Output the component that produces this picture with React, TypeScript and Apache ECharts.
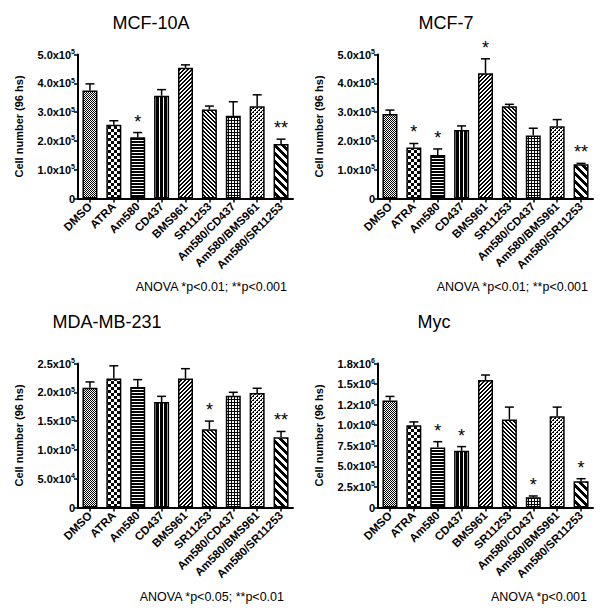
import React, { useEffect, useRef } from "react";
import * as echarts from "echarts";

const categories = [
  "DMSO",
  "ATRA",
  "Am580",
  "CD437",
  "BMS961",
  "SR11253",
  "Am580/CD437",
  "Am580/BMS961",
  "Am580/SR11253",
];

const panelTitles = ["MCF-10A", "MCF-7", "MDA-MB-231", "Myc"];
const anovaNotes = [
  "ANOVA *p<0.01; **p<0.001",
  "ANOVA *p<0.01; **p<0.001",
  "ANOVA *p<0.05; **p<0.01",
  "ANOVA *p<0.001",
];

const mcf10aMean = [3.75e5, 2.56e5, 2.13e5, 3.57e5, 4.54e5, 3.09e5, 2.87e5, 3.2e5, 1.89e5];
const mcf10aSem = [0.23e5, 0.14e5, 0.16e5, 0.21e5, 0.1e5, 0.12e5, 0.49e5, 0.4e5, 0.17e5];
const mcf10aSig = ["", "", "*", "", "", "", "", "", "**"];

const mcf7Mean = [2.93e5, 1.77e5, 1.51e5, 2.38e5, 4.35e5, 3.2e5, 2.19e5, 2.51e5, 1.19e5];
const mcf7Sem = [0.14e5, 0.14e5, 0.21e5, 0.14e5, 0.5e5, 0.07e5, 0.25e5, 0.23e5, 0.03e5];
const mcf7Sig = ["", "*", "*", "", "*", "", "", "", "**"];

const mdaMean = [2.08e5, 2.24e5, 2.09e5, 1.83e5, 2.24e5, 1.36e5, 1.94e5, 1.99e5, 1.22e5];
const mdaSem = [0.1e5, 0.22e5, 0.13e5, 0.1e5, 0.17e5, 0.14e5, 0.06e5, 0.08e5, 0.1e5];
const mdaSig = ["", "", "", "", "", "*", "", "", "**"];

const mycMean = [1.3e6, 1.0e6, 0.73e6, 0.69e6, 1.55e6, 1.07e6, 0.126e6, 1.11e6, 0.32e6];
const mycSem = [0.05e6, 0.04e6, 0.07e6, 0.05e6, 0.06e6, 0.15e6, 0.014e6, 0.11e6, 0.03e6];
const mycSig = ["", "", "*", "*", "", "", "*", "", "*"];

const tickLabelsMcf = ["0", "1.0x10^5", "2.0x10^5", "3.0x10^5", "4.0x10^5", "5.0x10^5"];
const tickLabelsMda = ["0", "5.0x10^4", "1.0x10^5", "1.5x10^5", "2.0x10^5", "2.5x10^5"];
const tickLabelsMyc = ["0", "2.5x10^5", "5.0x10^5", "7.5x10^5", "1.0x10^6", "1.2x10^6", "1.5x10^6", "1.8x10^6"];

const axisMax = [5e5, 5e5, 2.5e5, 1.75e6];
const axisInterval = [1e5, 1e5, 5e4, 2.5e5];

const FONT = '"Liberation Sans", Arial, sans-serif';

function makePattern(w: number, h: number, isBlack: (x: number, y: number) => boolean) {
  const c = document.createElement("canvas");
  c.width = w;
  c.height = h;
  const ctx = c.getContext("2d")!;
  const img = ctx.createImageData(w, h);
  for (let y = 0; y < h; y++) {
    for (let x = 0; x < w; x++) {
      const k = (y * w + x) * 4;
      const v = isBlack(x, y) ? 0 : 255;
      img.data[k] = v;
      img.data[k + 1] = v;
      img.data[k + 2] = v;
      img.data[k + 3] = 255;
    }
  }
  ctx.putImageData(img, 0, 0);
  return { image: c, repeat: "repeat" } as any;
}

function buildPatterns() {
  const mod = (a: number, n: number) => ((a % n) + n) % n;
  return [
    makePattern(2, 2, (x, y) => (x + y) % 2 === 0),
    makePattern(6, 6, (x, y) => (Math.floor(x / 3) + Math.floor(y / 3)) % 2 === 0),
    makePattern(4, 3, (x, y) => y < 2),
    makePattern(4, 4, (x) => x < 3),
    makePattern(4, 4, (x, y) => mod(x + y, 4) < 2),
    makePattern(4, 4, (x, y) => mod(x - y, 4) < 2),
    makePattern(3, 3, (x, y) => x === 0 || y === 0),
    makePattern(4, 4, (x, y) => mod(x + y, 4) === 0 || (mod(x + y, 4) === 1 && y % 2 === 0)),
    makePattern(8, 8, (x, y) => mod(x - y, 8) < 4),
  ];
}

export default function App() {
  const ref = useRef<HTMLDivElement>(null);

  useEffect(() => {
    if (!ref.current) return;
    const chart = echarts.init(ref.current, undefined, { renderer: "svg" });
    const patterns = buildPatterns();

    const means = [mcf10aMean, mcf7Mean, mdaMean, mycMean];
    const sems = [mcf10aSem, mcf7Sem, mdaSem, mycSem];
    const sigs = [mcf10aSig, mcf7Sig, mdaSig, mycSig];
    const tickLabels = [tickLabelsMcf, tickLabelsMcf, tickLabelsMda, tickLabelsMyc];

    const gridPos = [
      { left: 78, top: 54.5 },
      { left: 378, top: 54.5 },
      { left: 78, top: 363.5 },
      { left: 378, top: 363.5 },
    ];
    const titlePos = [
      { x: 151, y: 23 },
      { x: 446, y: 23 },
      { x: 107, y: 322 },
      { x: 434, y: 322 },
    ];
    const notePos = [
      { x: 287, y: 287 },
      { x: 588, y: 287 },
      { x: 284, y: 597 },
      { x: 587, y: 597 },
    ];

    const grids: any[] = [];
    const xAxes: any[] = [];
    const yAxes: any[] = [];
    const series: any[] = [];
    const graphics: any[] = [];

    for (let p = 0; p < 4; p++) {
      grids.push({ left: gridPos[p].left, top: gridPos[p].top, width: 215, height: 144, containLabel: false });
      xAxes.push({
        type: "category",
        gridIndex: p,
        data: categories,
        axisLine: { show: true, lineStyle: { color: "#000", width: 2 } },
        axisTick: { show: true, alignWithLabel: true, length: 4, lineStyle: { color: "#000", width: 1.5 } },
        axisLabel: {
          interval: 0,
          rotate: 45,
          margin: 6,
          color: "#000",
          fontFamily: FONT,
          fontWeight: "bold",
          fontSize: 11.5,
        },
      });
      const labels = tickLabels[p];
      const interval = axisInterval[p];
      yAxes.push({
        type: "value",
        gridIndex: p,
        min: 0,
        max: axisMax[p],
        interval,
        name: "Cell number (96 hs)",
        nameLocation: "middle",
        nameGap: 54,
        nameTextStyle: { color: "#000", fontFamily: FONT, fontWeight: "bold", fontSize: 11 },
        splitLine: { show: false },
        axisLine: { show: true, lineStyle: { color: "#000", width: 2 } },
        axisTick: { show: true, length: 4, lineStyle: { color: "#000", width: 1.5 } },
        axisLabel: {
          margin: 3,
          color: "#000",
          formatter: (v: number) => {
            const s = labels[Math.round(v / interval)] ?? "";
            if (s.indexOf("^") < 0) return `{m|${s}}`;
            const [a, b] = s.split("^");
            return `{m|${a}}{s|${b}}`;
          },
          rich: {
            m: { fontFamily: FONT, fontWeight: "bold", fontSize: 11, color: "#000", lineHeight: 13 },
            s: { fontFamily: FONT, fontWeight: "bold", fontSize: 7, color: "#000", verticalAlign: "top", lineHeight: 13 },
          },
        },
      });

      const m = means[p];
      const e = sems[p];
      const sg = sigs[p];
      series.push({
        type: "bar",
        xAxisIndex: p,
        yAxisIndex: p,
        barWidth: 15,
        data: m.map((v, i) => ({
          value: v,
          itemStyle: { color: patterns[i], borderColor: "#000", borderWidth: 1.5 },
        })),
      });
      series.push({
        type: "custom",
        xAxisIndex: p,
        yAxisIndex: p,
        z: 5,
        data: m.map((v, i) => [i, v, v + e[i]]),
        renderItem: (params: any, api: any) => {
          const i = api.value(0);
          const pb = api.coord([i, api.value(1)]);
          const pt = api.coord([i, api.value(2)]);
          const children: any[] = [
            { type: "line", shape: { x1: pb[0], y1: pb[1], x2: pt[0], y2: pt[1] }, style: { stroke: "#000", lineWidth: 1.5 } },
            { type: "line", shape: { x1: pt[0] - 4.5, y1: pt[1], x2: pt[0] + 4.5, y2: pt[1] }, style: { stroke: "#000", lineWidth: 1.5 } },
          ];
          const s = sg[params.dataIndex];
          if (s) {
            children.push({
              type: "text",
              x: pt[0],
              y: pt[1] - 2,
              style: {
                text: s,
                fill: "#000",
                fontFamily: FONT,
                fontSize: 18,
                align: "center",
                verticalAlign: "bottom",
              },
            });
          }
          return { type: "group", children };
        },
      });

      graphics.push({
        type: "text",
        x: titlePos[p].x,
        y: titlePos[p].y,
        style: {
          text: panelTitles[p],
          fill: "#000",
          fontFamily: FONT,
          fontSize: 18,
          align: "center",
          verticalAlign: "middle",
        },
      });
      graphics.push({
        type: "text",
        x: notePos[p].x,
        y: notePos[p].y,
        style: {
          text: anovaNotes[p],
          fill: "#000",
          fontFamily: FONT,
          fontSize: 12.5,
          align: "right",
          verticalAlign: "middle",
        },
      });
    }

    chart.setOption({
      animation: false,
      backgroundColor: "#fff",
      grid: grids,
      xAxis: xAxes,
      yAxis: yAxes,
      series,
      graphic: graphics,
    });

    return () => chart.dispose();
  }, []);

  return (
    <div
      ref={ref}
      style={{ position: "absolute", left: 0, top: 0, width: 600, height: 612 }}
    />
  );
}
